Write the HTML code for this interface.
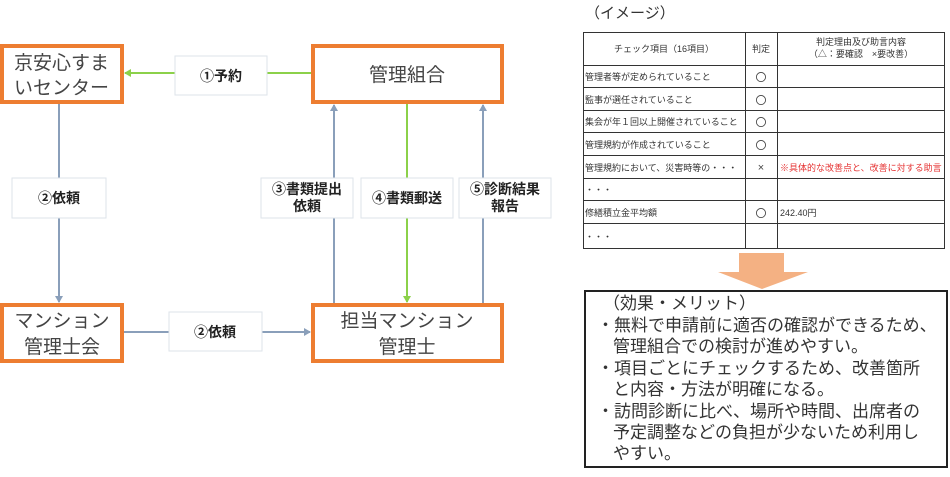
<!DOCTYPE html>
<html><head><meta charset="utf-8"><style>
body{margin:0;background:#fff;width:950px;height:472px;overflow:hidden}
svg{font-family:"Liberation Sans","Noto Sans CJK JP",sans-serif}
</style></head><body>
<svg width="950" height="472" viewBox="0 0 950 472" xmlns="http://www.w3.org/2000/svg">
<defs>
<marker id="ab" markerWidth="8" markerHeight="8" refX="6" refY="4" orient="auto" markerUnits="userSpaceOnUse"><path d="M0,0 L7,4 L0,8z" fill="#8a9fba"/></marker>
<marker id="ag" markerWidth="8" markerHeight="8" refX="6" refY="4" orient="auto" markerUnits="userSpaceOnUse"><path d="M0,0 L7,4 L0,8z" fill="#8cd14a"/></marker>
</defs>
<line x1="311" y1="73" x2="125" y2="73" stroke="#8cd14a" stroke-width="2" marker-end="url(#ag)"/>
<line x1="59" y1="103" x2="59" y2="302" stroke="#8a9fba" stroke-width="2" marker-end="url(#ab)"/>
<line x1="123" y1="332" x2="310" y2="332" stroke="#8a9fba" stroke-width="2" marker-end="url(#ab)"/>
<line x1="334" y1="304" x2="334" y2="105" stroke="#8a9fba" stroke-width="2" marker-end="url(#ab)"/>
<line x1="407" y1="102" x2="407" y2="302" stroke="#8cd14a" stroke-width="2" marker-end="url(#ag)"/>
<line x1="483" y1="304" x2="483" y2="105" stroke="#8a9fba" stroke-width="2" marker-end="url(#ab)"/>
<g fill="#fff" stroke="#ed7d31" stroke-width="4">
<rect x="2" y="46" width="120" height="56"/>
<rect x="313" y="46" width="189" height="56"/>
<rect x="2" y="305" width="120" height="56"/>
<rect x="313" y="305" width="189" height="56"/>
</g>
<g font-size="19" fill="#444">
<text x="14" y="69">京安心すま</text>
<text x="14" y="94">いセンター</text>
<text x="407" y="81" text-anchor="middle">管理組合</text>
<text x="62" y="327" text-anchor="middle">マンション</text>
<text x="62" y="353" text-anchor="middle">管理士会</text>
<text x="407" y="327" text-anchor="middle">担当マンション</text>
<text x="407" y="353" text-anchor="middle">管理士</text>
</g>
<g fill="#fff" stroke="#dde3ea" stroke-width="1">
<rect x="175" y="56" width="92" height="39"/>
<rect x="12" y="178" width="94" height="40"/>
<rect x="261" y="178" width="92" height="40"/>
<rect x="361" y="178" width="92" height="40"/>
<rect x="459" y="178" width="92" height="40"/>
<rect x="169" y="312" width="93" height="39"/>
</g>
<g font-size="14" font-weight="bold" fill="#222" text-anchor="middle">
<text x="221" y="81">①予約</text>
<text x="59" y="203">②依頼</text>
<text x="307" y="194">③書類提出</text>
<text x="307" y="211">依頼</text>
<text x="407" y="203">④書類郵送</text>
<text x="505" y="194">⑤診断結果</text>
<text x="505" y="211">報告</text>
<text x="215" y="337">②依頼</text>
</g>
<text x="585" y="18" font-size="15" fill="#333">（イメージ）</text>
<g stroke="#333" stroke-width="1" fill="none">
<rect x="583.5" y="32.5" width="361" height="216"/>
<line x1="745.5" y1="32" x2="745.5" y2="249"/>
<line x1="777.5" y1="32" x2="777.5" y2="249"/>
<line x1="583" y1="65.5" x2="945" y2="65.5"/>
<line x1="583" y1="87.5" x2="945" y2="87.5"/>
<line x1="583" y1="110.5" x2="945" y2="110.5"/>
<line x1="583" y1="132.5" x2="945" y2="132.5"/>
<line x1="583" y1="155.5" x2="945" y2="155.5"/>
<line x1="583" y1="178.5" x2="945" y2="178.5"/>
<line x1="583" y1="200.5" x2="945" y2="200.5"/>
<line x1="583" y1="223.5" x2="945" y2="223.5"/>
</g>
<g font-size="9" fill="#333">
<text x="664" y="52" text-anchor="middle">チェック項目（16項目）</text>
<text x="761" y="52" text-anchor="middle">判定</text>
<text x="861" y="45" text-anchor="middle">判定理由及び助言内容</text>
<text x="861" y="57" text-anchor="middle">（△：要確認　×要改善）</text>
<text x="585" y="80">管理者等が定められていること</text>
<text x="585" y="103">監事が選任されていること</text>
<text x="585" y="125">集会が年１回以上開催されていること</text>
<text x="585" y="148">管理規約が作成されていること</text>
<text x="585" y="171">管理規約において、災害時等の・・・</text>
<text x="585" y="193">・・・</text>
<text x="585" y="216">修繕積立金平均額</text>
<text x="585" y="240">・・・</text>
<text x="780" y="171" fill="#e53030">※具体的な改善点と、改善に対する助言</text>
<text x="780" y="216">242.40円</text>
</g>
<g font-size="11" fill="#444" text-anchor="middle">
<text x="761" y="81">〇</text>
<text x="761" y="104">〇</text>
<text x="761" y="126">〇</text>
<text x="761" y="149">〇</text>
<text x="761" y="171">×</text>
<text x="761" y="217">〇</text>
</g>
<path d="M739,253 H784 V272 H808 L762,289 L718,272 H739z" fill="#f4b183"/>
<rect x="585" y="291" width="362" height="176" fill="#fff" stroke="#222" stroke-width="2"/>
<g font-size="17" fill="#333">
<text x="603" y="309">（効果・メリット）</text>
<text x="597" y="331">・無料で申請前に適否の確認ができるため、</text>
<text x="613" y="352">管理組合での検討が進めやすい。</text>
<text x="597" y="374">・項目ごとにチェックするため、改善箇所</text>
<text x="613" y="395">と内容・方法が明確になる。</text>
<text x="597" y="417">・訪問診断に比べ、場所や時間、出席者の</text>
<text x="613" y="438">予定調整などの負担が少ないため利用し</text>
<text x="613" y="459">やすい。</text>
</g>
</svg>
</body></html>
